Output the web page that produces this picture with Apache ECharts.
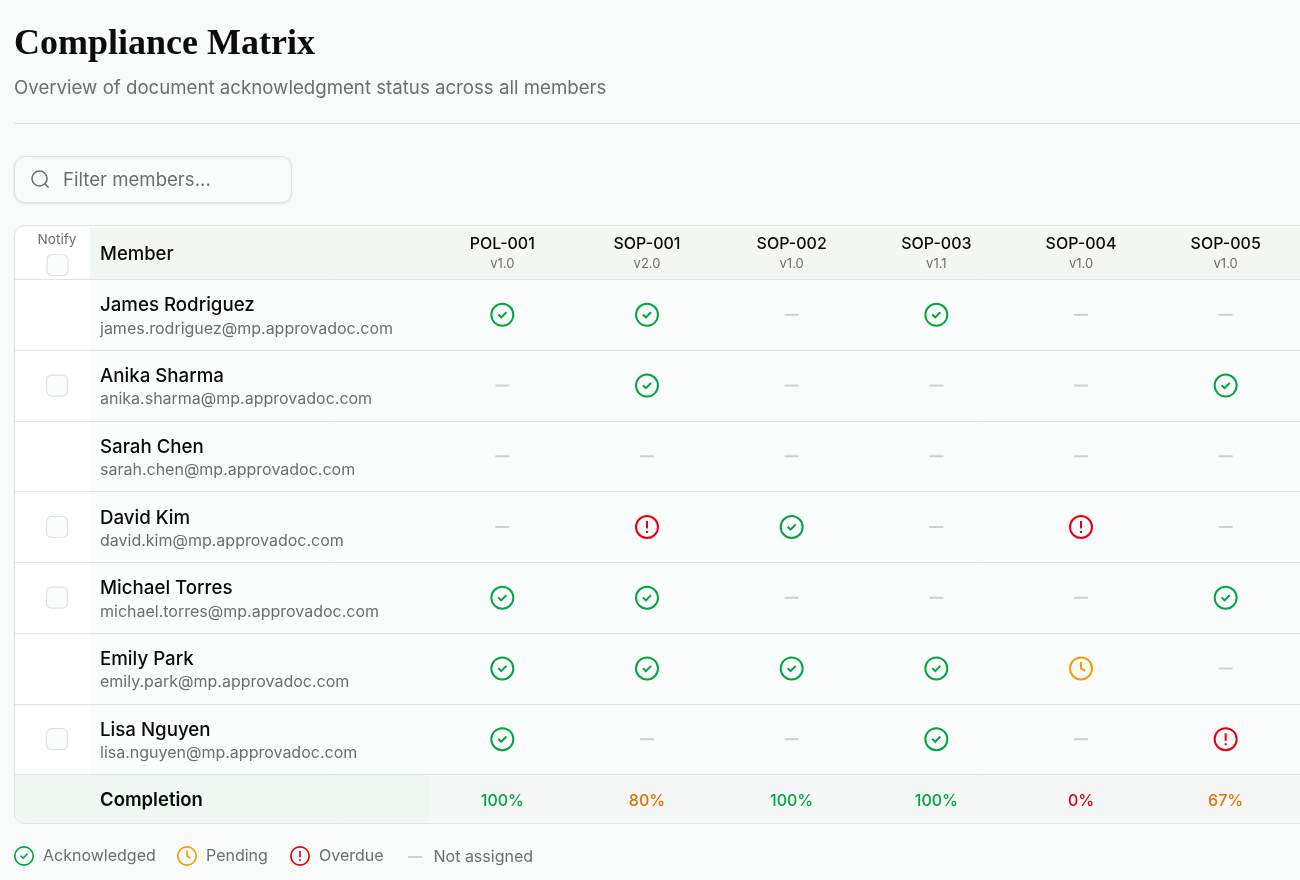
<!DOCTYPE html>
<html>
<head>
<meta charset="utf-8">
<title>Compliance Matrix</title>
<script src="https://cdn.jsdelivr.net/npm/echarts@6/dist/echarts.min.js"></script>
<style>
  html, body { margin: 0; padding: 0; background: #f9fbfa; }
  #chart { width: 1300px; height: 880px; }
</style>
</head>
<body>
<div id="chart"></div>
<script>
const documents = ['POL-001', 'SOP-001', 'SOP-002', 'SOP-003', 'SOP-004', 'SOP-005'];
const versions = ['v1.0', 'v2.0', 'v1.0', 'v1.1', 'v1.0', 'v1.0'];
const completion = [100, 80, 100, 100, 0, 67];

const members = ['James Rodriguez', 'Anika Sharma', 'Sarah Chen', 'David Kim', 'Michael Torres', 'Emily Park', 'Lisa Nguyen'];
const emails = [
  'james.rodriguez@mp.approvadoc.com',
  'anika.sharma@mp.approvadoc.com',
  'sarah.chen@mp.approvadoc.com',
  'david.kim@mp.approvadoc.com',
  'michael.torres@mp.approvadoc.com',
  'emily.park@mp.approvadoc.com',
  'lisa.nguyen@mp.approvadoc.com'
];
const notifyMembers = ['Anika Sharma', 'David Kim', 'Michael Torres', 'Lisa Nguyen'];

// A = acknowledged, P = pending, O = overdue, N = not assigned
const jamesStatus = ['A', 'A', 'N', 'A', 'N', 'N'];
const anikaStatus = ['N', 'A', 'N', 'N', 'N', 'A'];
const sarahStatus = ['N', 'N', 'N', 'N', 'N', 'N'];
const davidStatus = ['N', 'O', 'A', 'N', 'O', 'N'];
const michaelStatus = ['A', 'A', 'N', 'N', 'N', 'A'];
const emilyStatus = ['A', 'A', 'A', 'A', 'P', 'N'];
const lisaStatus = ['A', 'N', 'N', 'A', 'N', 'O'];
const statusRows = [jamesStatus, anikaStatus, sarahStatus, davidStatus, michaelStatus, emilyStatus, lisaStatus];

const FONT = 'Inter';
const GREEN = '#00a63e', AMBER = '#fe9a00', RED = '#e7000b', DASH = '#cfd1d0';
const INK = '#0a0a0a', MUTED = '#6c6f6e', LINE = '#e1e5e2';

// 圆环图标，内外圈方向相反留出中空
const RING = 'M12 0A12 12 0 1 1 12 24A12 12 0 1 1 12 0ZM12 2A10 10 0 1 0 12 22A10 10 0 1 0 12 2Z';
const ICON_ACK = 'path://' + RING + 'M7.2 12.4L8.6 11L10.9 13.2L15.4 8.7L16.8 10.1L10.9 16Z';
const ICON_PENDING = 'path://' + RING + 'M11 5.5H13V11.4L16.6 13.5L15.6 15.2L11 12.6Z';
const ICON_OVERDUE = 'path://' + RING + 'M11 6H13V13.5H11ZM11 16H13V18H11Z';
const ICON_DASH = 'path://M0 0H14V2H0Z';
const ICON_BOX = 'path://M5 0H16A5 5 0 0 1 21 5V16A5 5 0 0 1 16 21H5A5 5 0 0 1 0 16V5A5 5 0 0 1 5 0Z';

function cellsWith(code) {
  const cells = [];
  statusRows.forEach((row, r) => {
    row.forEach((s, c) => {
      if (s === code) cells.push([documents[c], members[r]]);
    });
  });
  return cells;
}

function statusSeries(name, code, symbol, size, color) {
  return {
    name, type: 'scatter', xAxisIndex: 0, yAxisIndex: 0,
    symbol, symbolSize: size, itemStyle: { color, opacity: 1 },
    silent: true, data: cellsWith(code)
  };
}

function legendItem(name, icon, left, top, width, height, gap) {
  return {
    left, top, padding: 0, itemWidth: width, itemHeight: height,
    selectedMode: false, data: [{ name, icon }],
    textStyle: { fontFamily: FONT, fontSize: 16, color: MUTED, padding: [0, 0, 0, gap] }
  };
}

const chart = echarts.init(document.getElementById('chart'));
chart.setOption({
  animation: false,
  backgroundColor: '#f9fbfa',
  title: {
    text: 'Compliance Matrix', subtext: 'Overview of document acknowledgment status across all members',
    left: 14, top: 27, padding: 0, itemGap: 16,
    textStyle: { fontFamily: 'Liberation Serif', fontSize: 36, fontWeight: 'bold', color: '#0c0c0c' },
    subtextStyle: { fontFamily: FONT, fontSize: 18.67, color: MUTED }
  },
  legend: [
    legendItem('Acknowledged', ICON_ACK, 14, 846, 20, 20, 4),
    legendItem('Pending', ICON_PENDING, 177, 846, 20, 20, 4),
    legendItem('Overdue', ICON_OVERDUE, 290, 846, 20, 20, 4),
    legendItem('Not assigned', ICON_DASH, 408, 849, 15, 2, 6)
  ],
  grid: [
    { left: 430, top: 279.5, width: 868, height: 495 },
    { left: 14, top: 279.5, width: 1286, height: 495 }
  ],
  xAxis: [
    {
      type: 'category', gridIndex: 0, position: 'top', data: documents,
      axisLine: { show: false }, axisTick: { show: false },
      axisLabel: {
        interval: 0, margin: 5,
        formatter: (v, i) => `{doc|${v}}\n{ver|${versions[i]}}`,
        rich: {
          doc: { fontFamily: FONT, fontSize: 16, fontWeight: 500, color: INK, lineHeight: 21 },
          ver: { fontFamily: FONT, fontSize: 13, color: MUTED, lineHeight: 20 }
        }
      }
    },
    {
      type: 'category', gridIndex: 0, position: 'bottom', data: completion.map(v => v + '%'),
      axisLine: { show: false }, axisTick: { show: false },
      axisLabel: {
        interval: 0, margin: 19,
        formatter: v => {
          const n = parseInt(v, 10);
          return `{${n === 100 ? 'full' : n === 0 ? 'none' : 'part'}|${v}}`;
        },
        rich: {
          full: { fontFamily: FONT, fontSize: 16, fontWeight: 500, color: GREEN },
          part: { fontFamily: FONT, fontSize: 16, fontWeight: 500, color: '#e17100' },
          none: { fontFamily: FONT, fontSize: 16, fontWeight: 500, color: RED }
        }
      }
    },
    { type: 'value', gridIndex: 1, min: 14, max: 1300, show: false }
  ],
  yAxis: [
    {
      type: 'category', gridIndex: 0, inverse: true, data: members,
      axisLine: { show: false }, axisTick: { show: false }, splitLine: { show: false },
      axisLabel: {
        interval: 0, margin: 330, align: 'left', padding: [4, 0, 0, 0],
        formatter: (v, i) => `{name|${v}}\n{mail|${emails[i]}}`,
        rich: {
          name: { fontFamily: FONT, fontSize: 18.7, fontWeight: 500, color: INK, lineHeight: 24 },
          mail: { fontFamily: FONT, fontSize: 16, color: MUTED, lineHeight: 22 }
        }
      }
    },
    {
      type: 'category', gridIndex: 1, inverse: true, data: members,
      axisLine: { show: false }, axisTick: { show: false }, axisLabel: { show: false },
      splitLine: { show: true, interval: 0, lineStyle: { color: LINE, width: 1 } }
    }
  ],
  series: [
    statusSeries('Acknowledged', 'A', ICON_ACK, 24, GREEN),
    statusSeries('Pending', 'P', ICON_PENDING, 24, AMBER),
    statusSeries('Overdue', 'O', ICON_OVERDUE, 24, RED),
    statusSeries('Not assigned', 'N', ICON_DASH, [14, 2], DASH),
    {
      name: 'Notify', type: 'scatter', xAxisIndex: 2, yAxisIndex: 1,
      symbol: ICON_BOX, symbolSize: 21, silent: true,
      itemStyle: { color: '#fbfcfc', borderColor: '#dfe2e0', borderWidth: 1.2, opacity: 1 },
      data: notifyMembers.map(m => [57, m])
    }
  ],
  graphic: [
    // 页头分隔线和搜索框
    { type: 'rect', z: -5, shape: { x: 14, y: 123, width: 1286, height: 1 }, style: { fill: LINE } },
    {
      type: 'rect', z: -5, shape: { x: 14.5, y: 156.5, width: 277, height: 46, r: 10 },
      style: { fill: '#fafcfb', stroke: '#e0e3e1', lineWidth: 1, shadowBlur: 3, shadowOffsetY: 1, shadowColor: 'rgba(0,0,0,0.08)' }
    },
    { type: 'circle', z: 5, shape: { cx: 39.5, cy: 178.5, r: 7.5 }, style: { fill: 'none', stroke: MUTED, lineWidth: 1.6 } },
    { type: 'line', z: 5, shape: { x1: 45, y1: 184, x2: 48.5, y2: 187.5 }, style: { stroke: MUTED, lineWidth: 1.6 } },
    { type: 'text', z: 5, style: { x: 63, y: 180.5, text: 'Filter members...', font: '18.6px Inter', fill: MUTED, textVerticalAlign: 'middle' } },
    // 表格背景
    { type: 'rect', z: -10, shape: { x: 14.5, y: 226.5, width: 1400, height: 597, r: 10 }, style: { fill: '#fbfcfc' } },
    { type: 'rect', z: -9, shape: { x: 90, y: 227, width: 1210, height: 52 }, style: { fill: '#f3f7f4' } },
    { type: 'rect', z: -9, shape: { x: 15, y: 227, width: 75, height: 547, r: [10, 0, 0, 0] }, style: { fill: '#ffffff' } },
    { type: 'rect', z: -9, shape: { x: 15, y: 775, width: 415, height: 48, r: [0, 0, 0, 10] }, style: { fill: '#f1f7f2' } },
    { type: 'rect', z: -9, shape: { x: 430, y: 775, width: 870, height: 48 }, style: { fill: '#f5f8f6' } },
    { type: 'rect', z: -8, shape: { x: 14.5, y: 225.5, width: 1400, height: 598, r: 10 }, style: { fill: 'none', stroke: LINE, lineWidth: 1 } },
    // 表头文字
    { type: 'text', z: 5, style: { x: 57, y: 239.5, text: 'Notify', font: '13.6px Inter', fill: MUTED, textAlign: 'center', textVerticalAlign: 'middle' } },
    { type: 'rect', z: 5, shape: { x: 47, y: 254.5, width: 21, height: 21, r: 5 }, style: { fill: '#fbfcfc', stroke: '#dfe2e0', lineWidth: 1.2 } },
    { type: 'text', z: 5, style: { x: 100, y: 254, text: 'Member', font: '500 18.5px Inter', fill: INK, textVerticalAlign: 'middle' } },
    { type: 'text', z: 5, style: { x: 100, y: 800, text: 'Completion', font: '600 18.5px Inter', fill: INK, textVerticalAlign: 'middle' } }
  ]
});
</script>
</body>
</html>
